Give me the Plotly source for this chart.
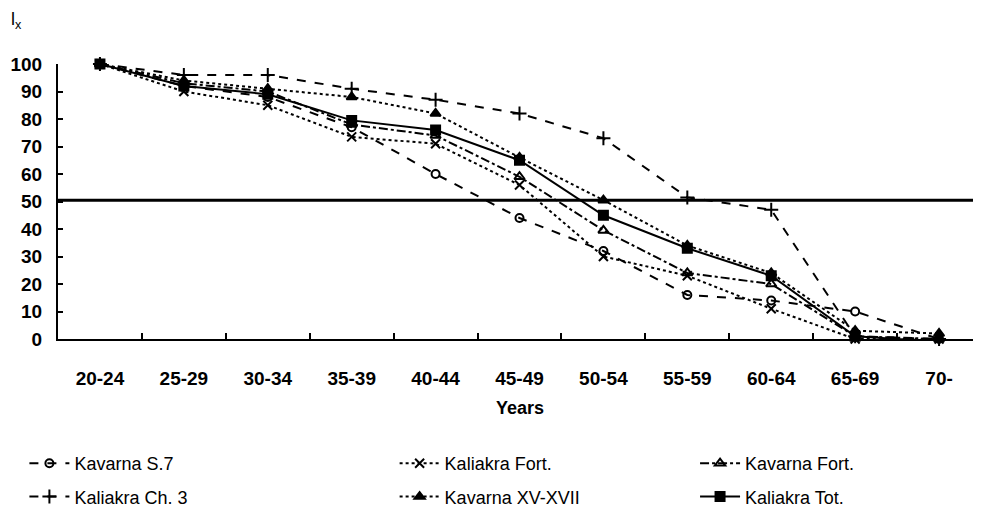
import plotly.graph_objects as go

categories = ["20-24", "25-29", "30-34", "35-39", "40-44", "45-49",
              "50-54", "55-59", "60-64", "65-69", "70-"]

kavarna_s7 = [100, 92, 88, 77, 60, 44, 32, 16, 14, 10, 0]
kaliakra_fort = [100, 90, 85, 73.5, 71, 56, 30, 23, 11, 0, 0]
kavarna_fort = [100, 93, 90, 78, 74, 59, 39.5, 24, 20, 1, 0]
kaliakra_ch3 = [100, 96, 96, 91, 87, 82, 73, 51.5, 47, 1, 0]
kavarna_xv = [100, 94, 91, 88, 82, 66, 50.5, 34, 24, 3, 2]
kaliakra_tot = [100, 92, 89, 79.5, 76, 65, 45, 33, 23, 1, -1]

y_ticks = [0, 10, 20, 30, 40, 50, 60, 70, 80, 90, 100]
ref_line = 50.5

series = [
    ("Kavarna S.7", kavarna_s7, "dash", "circle-open", 8, "legend"),
    ("Kaliakra Ch. 3", kaliakra_ch3, "dash", "cross-thin", 10, "legend"),
    ("Kaliakra Fort.", kaliakra_fort, "dot", "x-thin", 9, "legend2"),
    ("Kavarna XV-XVII", kavarna_xv, "dot", "triangle-up", 9, "legend2"),
    ("Kavarna Fort.", kavarna_fort, "dashdot", "triangle-up-open", 9, "legend3"),
    ("Kaliakra Tot.", kaliakra_tot, "solid", "square", 9, "legend3"),
]

fig = go.Figure()
for name, vals, dash, sym, size, leg in series:
    fig.add_trace(go.Scatter(
        x=categories, y=vals, name=name, mode="lines+markers",
        line=dict(color="black", width=2, dash=dash),
        marker=dict(symbol=sym, size=size, color="black",
                    line=dict(color="black", width=2)),
        legend=leg, legendgroup=name, cliponaxis=False,
    ))

fig.add_shape(type="line", xref="paper", x0=0, x1=1, yref="y",
              y0=ref_line, y1=ref_line, line=dict(color="black", width=3))

FONT = "Arial, Liberation Sans"
tick_font = dict(family=FONT, size=19, color="black", weight="bold")
leg_font = dict(family=FONT, size=18, color="black")

# page body has an 8px margin; figure is sized so the visible page is 981x512
W, H = 973, 504
# plot area in screen pixels: x 58..981, y 64..339
PX0, PW, PY0, PH = 58, 923, 339, 275

legend_common = dict(orientation="v", yref="container", yanchor="top",
                     y=1 - (445 - 8) / H,
                     xanchor="left", font=leg_font, itemwidth=40, tracegroupgap=7,
                     bgcolor="rgba(0,0,0,0)")

fig.update_layout(
    width=W, height=H,
    margin=dict(l=50, r=0, t=56, b=173, autoexpand=False),
    paper_bgcolor="white", plot_bgcolor="white",
    showlegend=True,
    legend=dict(x=-0.0364, **legend_common),
    legend2=dict(x=0.3647, **legend_common),
    legend3=dict(x=0.6902, **legend_common),
    xaxis=dict(
        type="category", range=[-0.5, 10.5], showgrid=False, automargin=False,
        showline=True, linecolor="black", linewidth=2,
        ticks="inside", tickson="boundaries", ticklen=6, tickwidth=2,
        tickcolor="black", tickfont=tick_font, ticklabelstandoff=21,
        zeroline=False,
    ),
    yaxis=dict(
        range=[0, 100], tickvals=y_ticks, showgrid=False, automargin=False,
        showline=True, linecolor="black", linewidth=2,
        ticks="inside", ticklen=5, tickwidth=2, tickcolor="black",
        tickfont=tick_font, ticklabelstandoff=10, zeroline=False,
    ),
    annotations=[
        dict(text="Years", x=0.5, y=(PY0 - 408) / PH,
             xref="paper", yref="paper", showarrow=False,
             font=dict(family=FONT, size=18, color="black", weight="bold"),
             xanchor="center", yanchor="middle"),
        dict(text="l<sub>x</sub>", x=(9 - PX0) / PW, y=(PY0 - 20) / PH,
             xref="paper", yref="paper",
             showarrow=False, font=dict(family=FONT, size=18, color="black"),
             xanchor="left", yanchor="middle"),
    ],
)

fig.write_html("out.html")
